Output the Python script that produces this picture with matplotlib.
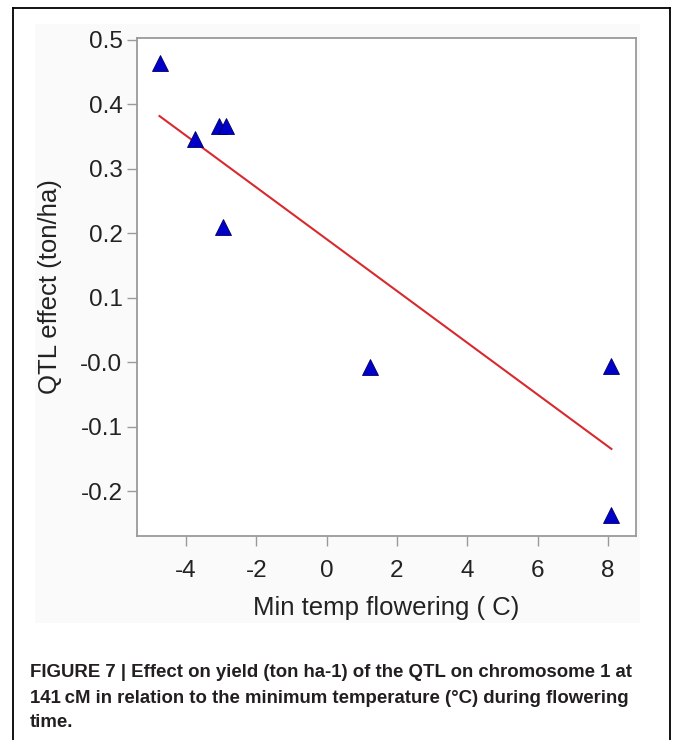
import matplotlib
matplotlib.use("Agg")
import matplotlib.pyplot as plt
from matplotlib.lines import Line2D
from matplotlib.patches import Rectangle

# data
temp = [-4.75, -3.75, -3.05, -2.85, -2.95, 1.25, 8.1, 8.1]
qtl_effect = [0.465, 0.347, 0.366, 0.366, 0.21, -0.007, -0.005, -0.236]
fit_x = [-4.75, 8.1]
fit_y = [0.382, -0.134]
yticks = [-0.2, -0.1, 0.0, 0.1, 0.2, 0.3, 0.4, 0.5]
ytick_labels = ["-0.2", "-0.1", "-0.0", "0.1", "0.2", "0.3", "0.4", "0.5"]
xticks = [-4, -2, 0, 2, 4, 6, 8]

caption = ["FIGURE 7 | Effect on yield (ton ha-1) of the QTL on chromosome 1 at",
           "141\u2009cM in relation to the minimum temperature (\u00b0C) during flowering",
           "time."]

plt.rcParams['font.family'] = ['Liberation Sans', 'DejaVu Sans']

W, H = 673, 740
fig = plt.figure(figsize=(W / 100, H / 100), dpi=100)

# light grey panel behind the chart image
fig.add_artist(Rectangle((35 / W, 1 - 623 / H), 605 / W, 599 / H,
                         transform=fig.transFigure, facecolor='#fafafa',
                         edgecolor='none', zorder=0))
# black frame (top, left, right)
frame_kw = dict(transform=fig.transFigure, color='black', lw=1.3)
fig.add_artist(Line2D([13 / W, 670 / W], [1 - 8 / H, 1 - 8 / H], **frame_kw))
fig.add_artist(Line2D([13 / W, 13 / W], [0, 1 - 8 / H], **frame_kw))
fig.add_artist(Line2D([670 / W, 670 / W], [0, 1 - 8 / H], **frame_kw))

ax = fig.add_axes([137 / W, 1 - 536 / H, 499 / W, 498 / H])
ax.set_facecolor('white')
ax.plot(fit_x, fit_y, color='#d82a2e', lw=1.5, zorder=2)
ax.plot(temp, qtl_effect, linestyle='none', marker='^', markersize=11.5,
        markerfacecolor='#0000c8', markeredgecolor='#000060',
        markeredgewidth=0.6, zorder=3)

ax.set_xlim(-5.39, 8.80)
ax.set_ylim(-0.269, 0.503)
ax.set_xticks(xticks)
ax.set_xticklabels([str(v) for v in xticks])
ax.set_yticks(yticks)
ax.set_yticklabels(ytick_labels)
for s in ax.spines.values():
    s.set_color('#9a9a9a')
    s.set_linewidth(1.3)
ax.tick_params(colors='#9a9a9a', labelcolor='#222222', labelsize=17.5,
               length=7.5, width=1.0)
ax.tick_params(axis='x', pad=10)
ax.tick_params(axis='y', pad=3)
ax.set_xlabel("Min temp flowering ( C)", fontsize=18.5, color='#222222')
ax.set_ylabel("QTL effect (ton/ha)", fontsize=18.5, color='#222222')
ax.xaxis.set_label_coords(0.5, -(596 - 536) / 498)
ax.yaxis.set_label_coords(-(137 - 62) / 499, 0.5)

cap_y = [677, 703, 727]
for line, y in zip(caption, cap_y):
    fig.text(30 / W, 1 - y / H, line, fontsize=13.4, fontweight='bold',
             color='#231f20', va='baseline', ha='left')

fig.savefig("out.png", dpi=100)
